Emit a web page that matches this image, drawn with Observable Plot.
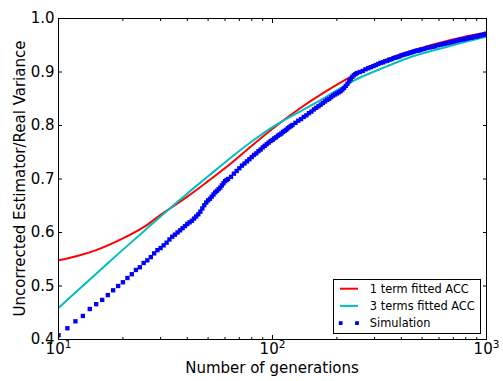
<!DOCTYPE html>
<html><head><meta charset="utf-8">
<script src="https://cdn.jsdelivr.net/npm/d3@7"></script>
<script src="https://cdn.jsdelivr.net/npm/@observablehq/plot@0.6"></script>
<style>body{margin:0;background:#fff}</style>
</head><body><div id="chart"></div>
<script>
// ---- data ----
const simGen = [10,11,12,13,14,15,16,17,18,19,20,21,22,23,24,25,26,27,28,29,30,31,
  32,33,34,35,36,37,38,39,40,41,42,43,44,45,46,47,48,49,50,51,52,53,54,55,56,57,58,59,60,61,62,
  64,66,68,70,72,74,76,78,80,82,84,86,88,90,92,94,96,98,100,102,104,106,108,110,112,114,116,118,120,122,124,
  128,132,136,140,144,148,152,156,160,164,168,172,176,180,184,188,192,196,200,204,208,212,216,220,224,228,232,236,240,244,248,
  256,264,272,280,288,296,304,312,320,328,336,344,352,360,368,376,384,392,400,408,416,424,432,440,448,456,464,472,480,488,496,
  512,528,544,560,576,592,608,624,640,656,672,688,704,720,736,752,768,784,800,816,832,848,864,880,896,912,928,944,960,976,992,1000];
const simVal = [0.408,0.421,0.434,0.444,0.457,0.466,0.474,0.483,0.492,0.500,0.507,0.515,0.522,0.530,0.535,0.543,0.548,0.554,0.561,0.567,0.571,0.576,
  0.581,0.587,0.592,0.596,0.600,0.604,0.608,0.612,0.616,0.619,0.622,0.626,0.630,0.634,0.639,0.645,0.651,0.656,0.660,0.663,0.667,0.671,0.675,0.678,0.681,0.684,0.688,0.692,0.696,0.698,0.700,
  0.704,0.710,0.715,0.720,0.725,0.729,0.733,0.737,0.741,0.745,0.748,0.752,0.755,0.759,0.762,0.765,0.768,0.771,0.773,0.776,0.778,0.781,0.783,0.785,0.788,0.790,0.792,0.795,0.797,0.799,0.801,
  0.805,0.809,0.812,0.816,0.819,0.823,0.826,0.830,0.833,0.836,0.839,0.842,0.845,0.848,0.850,0.853,0.856,0.858,0.860,0.862,0.864,0.867,0.870,0.874,0.878,0.883,0.887,0.891,0.894,0.896,0.898,
  0.900,0.902,0.905,0.907,0.909,0.911,0.913,0.915,0.917,0.918,0.920,0.921,0.923,0.924,0.926,0.927,0.928,0.929,0.931,0.932,0.933,0.934,0.935,0.936,0.937,0.938,0.939,0.940,0.940,0.941,0.942,
  0.943,0.945,0.946,0.947,0.948,0.950,0.951,0.952,0.953,0.954,0.955,0.956,0.957,0.958,0.959,0.960,0.961,0.961,0.962,0.963,0.964,0.964,0.965,0.966,0.966,0.967,0.968,0.969,0.969,0.970,0.971,0.971];
const fitGen = [10,12,15,20,25,30,40,50,63,80,100,130,170,240,340,450,680,1000];
const oneTerm = [0.548,0.555,0.567,0.589,0.610,0.633,0.667,0.696,0.727,0.762,0.794,0.828,0.859,0.894,0.923,0.940,0.960,0.974];
const threeTerms = [0.459,0.488,0.523,0.568,0.602,0.630,0.673,0.705,0.738,0.770,0.797,0.823,0.849,0.884,0.910,0.929,0.949,0.966];
const xMajor = [10, 100, 1000];
const xMinor = [20,30,40,50,60,70,80,90,200,300,400,500,600,700,800,900];
const yTicks = [0.4,0.5,0.6,0.7,0.8,0.9,1.0];
const seriesNames = ["1 term fitted ACC", "3 terms fitted ACC", "Simulation"];
const seriesColors = ["#ff0000", "#00bfbf", "#0000ff"];
const xTitle = "Number of generations";
const yTitle = "Uncorrected Estimator/Real Variance";

const sim = simGen.map((g, i) => ({g, v: simVal[i]}));
const fits = [
  ...fitGen.map((g, i) => ({g, v: oneTerm[i], s: seriesNames[0]})),
  ...fitGen.map((g, i) => ({g, v: threeTerms[i], s: seriesNames[1]}))
];

const W = 503, H = 381;
const mL = 58, mR = 17, mT = 18, mB = 42;
const FONT = "DejaVu Sans";

const svg = Plot.plot({
  width: W, height: H,
  marginLeft: mL, marginRight: mR, marginTop: mT, marginBottom: mB,
  style: {fontFamily: FONT, fontSize: "15px", background: "#fff", color: "#000"},
  x: {type: "log", domain: [10, 1000], label: null},
  y: {domain: [0.4, 1.0], label: null},
  color: {domain: seriesNames, range: seriesColors},
  marks: [
    Plot.line(fits, {x: "g", y: "v", z: "s", stroke: "s", strokeWidth: 2, curve: "catmull-rom", clip: true}),
    Plot.dot(sim, {x: "g", y: "v", symbol: "square", r: 2.45, fill: seriesColors[2], stroke: null, clip: true}),
    // tick labels
    Plot.axisY({anchor: "left", ticks: yTicks, tickSize: 0, tickPadding: 4, tickFormat: d => d.toFixed(1), fontSize: 15, label: null}),
    Plot.axisX({anchor: "bottom", ticks: xMajor, tickSize: 0, tickPadding: 3.5, tickFormat: d => "10^" + Math.round(Math.log10(d)), fontSize: 15, label: null}),
    // inward ticks on all four sides
    Plot.axisY({anchor: "left", ticks: yTicks, tickSize: -4, tickFormat: () => "", label: null}),
    Plot.axisY({anchor: "right", ticks: yTicks, tickSize: -4, tickFormat: () => "", label: null}),
    Plot.axisX({anchor: "bottom", ticks: xMajor, tickSize: -4, tickFormat: () => "", label: null}),
    Plot.axisX({anchor: "top", ticks: xMajor, tickSize: -4, tickFormat: () => "", label: null}),
    Plot.axisX({anchor: "bottom", ticks: xMinor, tickSize: -2, tickFormat: () => "", label: null}),
    Plot.axisX({anchor: "top", ticks: xMinor, tickSize: -2, tickFormat: () => "", label: null}),
    Plot.frame({stroke: "#000", strokeWidth: 1})
  ]
});

const s = d3.select(svg);
// superscript exponents on log tick labels
s.selectAll('g[aria-label="x-axis tick label"] text').each(function () {
  const t = d3.select(this);
  const str = t.text();
  if (str.includes("^")) {
    const [b, e] = str.split("^");
    t.text(b);
    t.append("tspan").attr("dy", "-5.6").attr("font-size", "10.5px").text(e);
  }
});

// axis titles
s.append("text").attr("x", (mL + W - mR) / 2).attr("y", 373.3)
  .attr("text-anchor", "middle").attr("font-family", FONT).attr("font-size", "15px").attr("fill", "#000").text(xTitle);
s.append("text").attr("transform", `translate(25,${(mT + H - mB) / 2}) rotate(-90)`)
  .attr("text-anchor", "middle").attr("font-family", FONT).attr("font-size", "15px").attr("fill", "#000").text(yTitle);

// legend
const lg = s.append("g").attr("text-anchor", "start");
lg.append("rect").attr("x", 333.5).attr("y", 279.5).attr("width", 147).attr("height", 54)
  .attr("fill", "#fff").attr("stroke", "#000").attr("stroke-width", 1);
seriesNames.forEach((name, i) => {
  const cy = 288.7 + i * 17.2;
  if (i < 2) {
    lg.append("line").attr("x1", 340).attr("x2", 358).attr("y1", cy).attr("y2", cy)
      .attr("stroke", seriesColors[i]).attr("stroke-width", 2);
  } else {
    [340.7, 357].forEach(cx => lg.append("rect").attr("x", cx - 1.9).attr("y", cy - 1.9)
      .attr("width", 3.8).attr("height", 3.8).attr("fill", seriesColors[i]));
  }
  lg.append("text").attr("x", 369.8).attr("y", cy + 4.2).attr("text-anchor", "start").attr("font-family", FONT)
    .attr("font-size", "11.4px").attr("fill", "#000").text(name);
});

document.getElementById("chart").appendChild(svg);
</script>
</body></html>
